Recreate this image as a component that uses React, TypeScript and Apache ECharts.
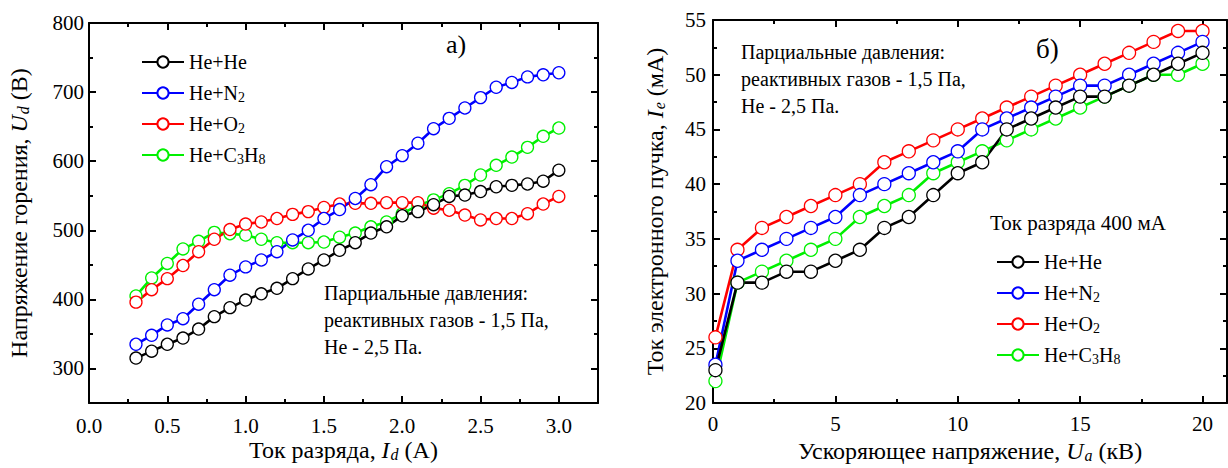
import React, { useEffect, useRef } from "react";
import * as echarts from "echarts";

const FONT = '"Liberation Serif", "Times New Roman", serif';

// ---- Left chart (а): burning voltage vs discharge current ----
const currentA = [0.3, 0.4, 0.5, 0.6, 0.7, 0.8, 0.9, 1.0, 1.1, 1.2, 1.3, 1.4, 1.5, 1.6, 1.7, 1.8, 1.9, 2.0, 2.1, 2.2, 2.3, 2.4, 2.5, 2.6, 2.7, 2.8, 2.9, 3.0];
const voltHeHe = [315, 325, 335, 344, 357, 375, 388, 399, 408, 416, 430, 444, 457, 471, 482, 496, 505, 521, 527, 537, 549, 551, 556, 563, 565, 567, 571, 587];
const voltHeN2 = [335, 348, 363, 372, 393, 414, 435, 447, 457, 469, 486, 500, 517, 530, 546, 566, 592, 608, 626, 647, 662, 677, 692, 707, 714, 722, 725, 728];
const voltHeO2 = [396, 414, 430, 449, 469, 487, 501, 509, 512, 517, 523, 527, 533, 538, 539, 539, 540, 540, 540, 532, 529, 522, 515, 517, 517, 524, 538, 549];
const voltHeC3H8 = [405, 431, 452, 473, 484, 497, 495, 493, 487, 482, 482, 482, 483, 490, 496, 505, 512, 524, 536, 544, 553, 565, 580, 594, 606, 620, 636, 648];

// ---- Right chart (б): beam current vs accelerating voltage ----
const accelKV = [0.1, 1, 2, 3, 4, 5, 6, 7, 8, 9, 10, 11, 12, 13, 14, 15, 16, 17, 18, 19, 20];
const beamHeHe = [23, 31, 31, 32, 32, 33, 34, 36, 37, 39, 41, 42, 45, 46, 47, 48, 48, 49, 50, 51, 52];
const beamHeN2 = [23.5, 33, 34, 35, 36, 37, 39, 40, 41, 42, 43, 45, 46, 47, 48, 49, 49, 50, 51, 52, 53];
const beamHeO2 = [26, 34, 36, 37, 38, 39, 40, 42, 43, 44, 45, 46, 47, 48, 49, 50, 51, 52, 53, 54, 54];
const beamHeC3H8 = [22, 31, 32, 33, 34, 35, 37, 38, 39, 41, 42, 43, 44, 45, 46, 47, 48, 49, 50, 50, 51];

// ---- Ticks ----
const leftXMajor = [0, 0.5, 1.0, 1.5, 2.0, 2.5, 3.0];
const leftXMinor = [0.25, 0.75, 1.25, 1.75, 2.25, 2.75];
const leftYMajor = [300, 400, 500, 600, 700, 800];
const leftYMinor = [350, 450, 550, 650, 750];
const rightXMajor = [0, 5, 10, 15, 20];
const rightXMinor = [2.5, 7.5, 12.5, 17.5];
const rightYMajor = [20, 25, 30, 35, 40, 45, 50, 55];
const rightYMinor = [22.5, 27.5, 32.5, 37.5, 42.5, 47.5, 52.5];

const seriesNames = ["He+He", "He+N2", "He+O2", "He+C3H8"];
const seriesColors = ["#000000", "#0000ff", "#ff0000", "#00f000"];

const BLACK = "#000";

function axisGroup(opts: {
  gridIndex: number;
  min: number;
  max: number;
  major: number[];
  minor: number[];
  mainPos: string;
  oppPos: string;
  fmt: (v: number) => string;
  name: string;
  nameGap: number;
  labelMargin: number;
  subPad: number;
}) {
  const base = {
    type: "value",
    gridIndex: opts.gridIndex,
    min: opts.min,
    max: opts.max,
    splitLine: { show: false },
    axisPointer: { show: false },
  };
  const line = { show: true, onZero: false, lineStyle: { color: BLACK, width: 2 } };
  const noLine = { show: false, onZero: false };
  const majorTick = { show: true, inside: true, length: 7, customValues: opts.major, lineStyle: { color: BLACK, width: 2 } };
  const minorTick = { show: true, inside: true, length: 4, customValues: opts.minor, lineStyle: { color: BLACK, width: 2 } };
  return [
    {
      ...base,
      position: opts.mainPos,
      axisLine: line,
      axisTick: majorTick,
      axisLabel: {
        show: true,
        customValues: opts.major,
        formatter: opts.fmt,
        fontFamily: FONT,
        fontSize: 21,
        color: BLACK,
        margin: opts.labelMargin,
      },
      name: opts.name,
      nameLocation: "middle",
      nameGap: opts.nameGap,
      nameMoveOverlap: false,
      nameTextStyle: {
        fontFamily: FONT,
        fontSize: 24,
        color: BLACK,
        rich: {
          i: { fontFamily: FONT, fontSize: 24, fontStyle: "italic", color: BLACK },
          s: { fontFamily: FONT, fontSize: 16, fontStyle: "italic", color: BLACK, lineHeight: 16, padding: [opts.subPad, 0, 0, 1], verticalAlign: "bottom" },
        },
      },
    },
    { ...base, position: opts.mainPos, axisLine: noLine, axisTick: minorTick, axisLabel: { show: false } },
    { ...base, position: opts.oppPos, axisLine: line, axisTick: majorTick, axisLabel: { show: false } },
    { ...base, position: opts.oppPos, axisLine: noLine, axisTick: minorTick, axisLabel: { show: false } },
  ];
}

function zip(xs: number[], ys: number[]) {
  return xs.map((x, i) => [x, ys[i]]);
}

function makeSeries(name: string, color: string, xs: number[], ys: number[], axisIndex: number, size: number) {
  return {
    type: "line",
    name,
    xAxisIndex: axisIndex,
    yAxisIndex: axisIndex,
    data: zip(xs, ys),
    symbol: "circle",
    symbolSize: size,
    showSymbol: true,
    lineStyle: { color, width: 2.6 },
    itemStyle: { color: "#ffffff", borderColor: color, borderWidth: 1.3 },
    emphasis: { disabled: true },
  };
}

function legendLabel(name: string) {
  return name.replace(/(\d)/g, "{s|$1}");
}

function makeLegend(left: number, top: number) {
  return {
    data: seriesNames,
    orient: "vertical",
    left,
    top,
    itemWidth: 42,
    itemHeight: 14,
    itemGap: 0,
    selectedMode: false,
    formatter: legendLabel,
    textStyle: {
      fontFamily: FONT,
      fontSize: 20,
      color: BLACK,
      lineHeight: 22,
      rich: {
        s: { fontFamily: FONT, fontSize: 14, color: BLACK, lineHeight: 14, padding: [17, 0, 0, 0], verticalAlign: "bottom" },
      },
    },
  };
}

function textEl(x: number, y: number, text: string, size: number, lineHeight?: number) {
  return {
    type: "text",
    x,
    y,
    style: {
      text,
      fill: BLACK,
      font: `${size}px ${FONT}`,
      lineHeight: lineHeight || size,
      textVerticalAlign: "top",
    },
  };
}

export default function App() {
  const ref = useRef<HTMLDivElement>(null);
  useEffect(() => {
    if (!ref.current) return;
    const chart = echarts.init(ref.current, undefined, { renderer: "svg" });

    const leftX = axisGroup({
      gridIndex: 0, min: 0, max: 3.25, major: leftXMajor, minor: leftXMinor,
      mainPos: "bottom", oppPos: "top", fmt: (v: number) => v.toFixed(1),
      name: "Ток разряда, {i|I}{s|d} (А)", nameGap: 35, labelMargin: 12, subPad: 12,
    });
    const rightX = axisGroup({
      gridIndex: 1, min: 0, max: 21, major: rightXMajor, minor: rightXMinor,
      mainPos: "bottom", oppPos: "top", fmt: (v: number) => String(v),
      name: "Ускоряющее напряжение, {i|U}{s|a} (кВ)", nameGap: 36, labelMargin: 10, subPad: 12,
    });
    const leftY = axisGroup({
      gridIndex: 0, min: 250, max: 800, major: leftYMajor, minor: leftYMinor,
      mainPos: "left", oppPos: "right", fmt: (v: number) => String(v),
      name: "Напряжение горения, {i|U}{s|d} (В)", nameGap: 58, labelMargin: 5, subPad: 17,
    });
    const rightY = axisGroup({
      gridIndex: 1, min: 20, max: 55, major: rightYMajor, minor: rightYMinor,
      mainPos: "left", oppPos: "right", fmt: (v: number) => String(v),
      name: "Ток электронного пучка, {i|I}{s|e} (мА)", nameGap: 46, labelMargin: 7, subPad: 17,
    });

    const leftData = [voltHeHe, voltHeN2, voltHeO2, voltHeC3H8];
    const rightData = [beamHeHe, beamHeN2, beamHeO2, beamHeC3H8];
    const series: any[] = [];
    // draw in reverse order so He+He ends up on top
    for (let k = seriesNames.length - 1; k >= 0; k--) {
      series.push(makeSeries(seriesNames[k], seriesColors[k], currentA, leftData[k], 0, 12));
    }
    for (let k = seriesNames.length - 1; k >= 0; k--) {
      series.push(makeSeries(seriesNames[k], seriesColors[k], accelKV, rightData[k], 4, 13));
    }

    chart.setOption({
      animation: false,
      backgroundColor: "#ffffff",
      grid: [
        { left: 89, top: 23, width: 509, height: 380, outerBoundsMode: "none", containLabel: false },
        { left: 713, top: 20, width: 514, height: 383, outerBoundsMode: "none", containLabel: false },
      ],
      xAxis: [...leftX, ...rightX],
      yAxis: [...leftY, ...rightY],
      legend: [makeLegend(136, 46), makeLegend(991, 246)],
      series,
      graphic: [
        textEl(446, 31, "а)", 26),
        textEl(1036, 35, "б)", 27),
        textEl(324, 279, "Парциальные давления:\nреактивных газов - 1,5 Па,\nHe - 2,5 Па.", 20, 27),
        textEl(741, 38, "Парциальные давления:\nреактивных газов - 1,5 Па,\nHe - 2,5 Па.", 20, 27),
        textEl(990, 212, "Ток разряда 400 мА", 21),
      ],
    });
    return () => chart.dispose();
  }, []);
  return <div ref={ref} style={{ position: "fixed", left: 0, top: 0, width: 1228, height: 468 }} />;
}
